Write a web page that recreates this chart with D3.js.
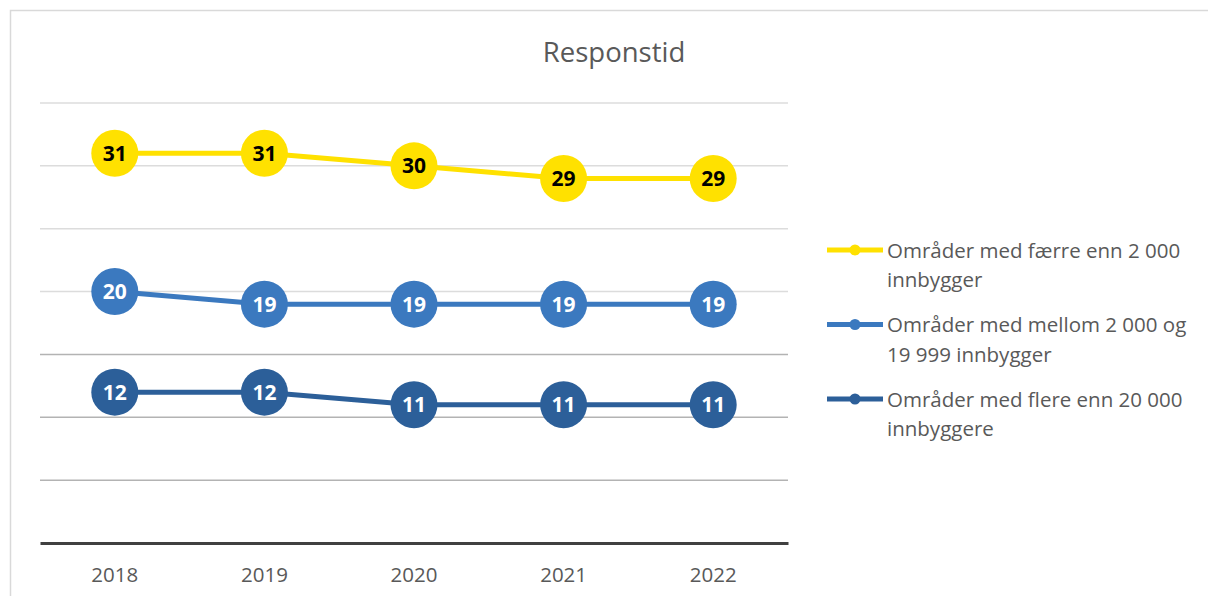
<!DOCTYPE html>
<html>
<head>
<meta charset="utf-8">
<script src="https://cdn.jsdelivr.net/npm/d3@7"></script>
<style>
  body { margin: 0; background: #fff; }
  text { font-family: "Open Sans", "DejaVu Sans", sans-serif; }
</style>
</head>
<body>
<svg id="chart" width="1208" height="596"></svg>
<script>
// ***** Data *****
const years = ["2018", "2019", "2020", "2021", "2022"];
const fewer2000 = [31, 31, 30, 29, 29];
const between2000 = [20, 19, 19, 19, 19];
const more20000 = [12, 12, 11, 11, 11];
const seriesNames = [
  ["Områder med færre enn 2 000", "innbygger"],
  ["Områder med mellom 2 000 og", "19 999 innbygger"],
  ["Områder med flere enn 20 000", "innbyggere"]
];
const gridValues = [5, 10, 15, 20, 25, 30, 35];

const colors = ["#ffe100", "#3b79bf", "#2c5f99"];
const labelColors = ["#000", "#fff", "#fff"];
const series = [fewer2000, between2000, more20000].map(function(vals, i) {
  return { name: seriesNames[i], color: colors[i], labelColor: labelColors[i],
    values: vals.map(function(v, j) { return { year: years[j], value: v }; }) };
});

const svg = d3.select("#chart");

// chart border
svg.append("rect")
  .attr("x", 10.5).attr("y", 10.5)
  .attr("width", 1210).attr("height", 600)
  .attr("fill", "none")
  .attr("stroke", "#d9d9d9")
  .attr("stroke-width", 1.5);

// ***** Scales *****
const xScale = d3.scaleBand().domain(years).range([40, 788]);
const yScale = d3.scaleLinear().domain([0, 35]).range([543, 103]);

// gridlines
svg.selectAll(".grid")
  .data(gridValues)
  .enter()
  .append("line")
  .attr("class", "grid")
  .attr("x1", 40).attr("x2", 788)
  .attr("y1", function(d) { return yScale(d); })
  .attr("y2", function(d) { return yScale(d); })
  .attr("stroke", function(d) { return d <= 15 ? "#b3b3b3" : "#dcdcdc"; })
  .attr("stroke-width", 1.5);

// x axis
const xAxis = svg.append("g")
  .attr("transform", "translate(0," + yScale(0) + ")")
  .call(d3.axisBottom(xScale).tickSize(0).tickPadding(24));
xAxis.select(".domain").attr("stroke", "#404040").attr("stroke-width", 3);
xAxis.selectAll("text")
  .attr("fill", "#595959")
  .style("font-size", "20.5px")
  .style("font-family", "'Open Sans', sans-serif");

// title
svg.append("text")
  .attr("x", 614).attr("y", 62)
  .attr("text-anchor", "middle")
  .attr("fill", "#595959")
  .style("font-size", "27.5px")
  .text("Responstid");

// ***** Lines and markers *****
const line = d3.line()
  .x(function(d) { return xScale(d.year) + xScale.bandwidth() / 2; })
  .y(function(d) { return yScale(d.value); });

const groups = svg.selectAll(".series")
  .data(series)
  .enter()
  .append("g")
  .attr("class", "series");

groups.append("path")
  .attr("d", function(d) { return line(d.values); })
  .attr("fill", "none")
  .attr("stroke", function(d) { return d.color; })
  .attr("stroke-width", 5);

const points = groups.selectAll(".pt")
  .data(function(d) {
    return d.values.map(function(v) { return { s: d, year: v.year, value: v.value }; });
  })
  .enter()
  .append("g")
  .attr("class", "pt")
  .attr("transform", function(d) {
    return "translate(" + (xScale(d.year) + xScale.bandwidth() / 2) + "," + yScale(d.value) + ")";
  });

points.append("circle")
  .attr("r", 23.5)
  .attr("fill", function(d) { return d.s.color; });

points.append("text")
  .attr("text-anchor", "middle")
  .attr("dy", "0.36em")
  .attr("fill", function(d) { return d.s.labelColor; })
  .style("font-size", "21px")
  .style("font-weight", "bold")
  .text(function(d) { return d.value; });

// ***** Legend *****
const legend = svg.selectAll(".legend")
  .data(series)
  .enter()
  .append("g")
  .attr("class", "legend")
  .attr("transform", function(d, i) { return "translate(827," + (250 + i * 74.5) + ")"; });

legend.append("line")
  .attr("x1", 0).attr("x2", 56)
  .attr("stroke", function(d) { return d.color; })
  .attr("stroke-width", 5);

legend.append("circle")
  .attr("cx", 28).attr("r", 5.5)
  .attr("fill", function(d) { return d.color; });

legend.append("text")
  .attr("x", 60).attr("y", 7.5)
  .attr("fill", "#595959")
  .style("font-size", "20.5px")
  .selectAll("tspan")
  .data(function(d) { return d.name; })
  .enter()
  .append("tspan")
  .attr("x", 60)
  .attr("dy", function(d, i) { return i === 0 ? 0 : 29.5; })
  .text(function(d) { return d; });
</script>
</body>
</html>
